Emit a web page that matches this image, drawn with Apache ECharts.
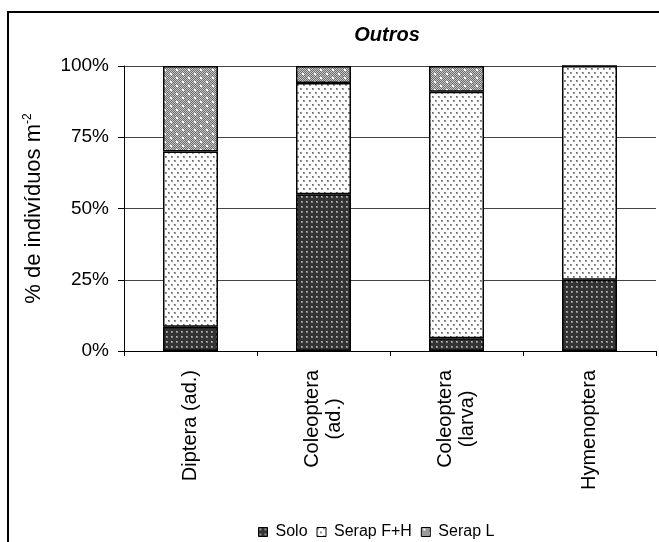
<!DOCTYPE html>
<html><head><meta charset="utf-8">
<script src="https://cdn.jsdelivr.net/npm/echarts@6/dist/echarts.min.js"></script>
<style>html,body{margin:0;padding:0;background:#fff}#c{width:659px;height:542px}</style>
</head><body><div id="c"></div>
<script>
const categories = ['Diptera (ad.)', 'Coleoptera\n(ad.)', 'Coleoptera\n(larva)', 'Hymenoptera'];
const solo = [8.5, 55, 4.5, 25];
const serapFH = [61.5, 39, 86.5, 75];
const serapL = [30, 6, 9, 0];
const seriesNames = ['Solo', 'Serap F+H', 'Serap L'];
const yTicks = [0, 25, 50, 75, 100];

function makePattern(kind) {
  const c = document.createElement('canvas');
  const ctx = c.getContext('2d');
  if (kind === 'solo') {
    c.width = 5; c.height = 5;
    ctx.fillStyle = '#333'; ctx.fillRect(0, 0, 5, 5);
    ctx.fillStyle = '#888'; ctx.fillRect(1, 1, 2, 2);
    ctx.fillStyle = '#bbb'; ctx.fillRect(1, 1, 1, 1);
  } else if (kind === 'fh') {
    c.width = 6; c.height = 8;
    ctx.fillStyle = '#fff'; ctx.fillRect(0, 0, 6, 8);
    ctx.fillStyle = '#999'; ctx.fillRect(0, 0, 2, 2); ctx.fillRect(3, 4, 2, 2);
    ctx.fillStyle = '#666'; ctx.fillRect(0, 0, 1, 1); ctx.fillRect(3, 4, 1, 1);
  } else {
    c.width = 12; c.height = 8;
    for (let y = 0; y < 8; y++) for (let x = 0; x < 12; x++) {
      ctx.fillStyle = ((x + y) % 2) ? '#707070' : '#c4c4c4';
      ctx.fillRect(x, y, 1, 1);
    }
    ctx.fillStyle = '#fff'; ctx.fillRect(2, 1, 2, 2); ctx.fillRect(8, 5, 2, 2);
  }
  return { image: c, repeat: 'repeat' };
}
const fills = [makePattern('solo'), makePattern('fh'), makePattern('l')];
const FONT = 'Arial, "Liberation Sans", sans-serif';

const chart = echarts.init(document.getElementById('c'), null, { renderer: 'canvas' });
const dataSets = [solo, serapFH, serapL];
chart.setOption({
  animation: false,
  backgroundColor: '#fff',
  title: {
    text: 'Outros', left: 382, top: 20, textAlign: 'center',
    textStyle: { fontFamily: FONT, fontSize: 20, fontWeight: 'bold', fontStyle: 'italic', color: '#000' }
  },
  graphic: [{
    type: 'rect', shape: { x: 8, y: 12, width: 700, height: 600 },
    style: { fill: 'none', stroke: '#000', lineWidth: 2 }, silent: true
  }],
  legend: {
    left: 253, top: 519, itemWidth: 9, itemHeight: 9, itemGap: 9, icon: 'rect',
    data: seriesNames,
    textStyle: { fontFamily: FONT, fontSize: 16, color: '#000', padding: [0, 0, 0, 3] },
    itemStyle: { borderColor: '#000', borderWidth: 1 }
  },
  grid: { left: 124, right: 3, top: 66, bottom: 191 },
  xAxis: {
    type: 'category', data: categories,
    axisLine: { lineStyle: { color: '#000', width: 1 } },
    axisTick: { show: true, length: 5, lineStyle: { color: '#000' }, alignWithLabel: false },
    axisLabel: {
      interval: 0, rotate: 90, margin: 19, color: '#000',
      formatter: v => '{c|' + v + '}',
      rich: { c: { align: 'center', fontFamily: FONT, fontSize: 20, lineHeight: 22, color: '#000' } }
    }
  },
  yAxis: {
    type: 'value', min: 0, max: 100, interval: 25,
    name: '% de indivíduos m{sup|-2}', nameLocation: 'middle', nameGap: 78, nameRotate: 90,
    nameTextStyle: {
      fontFamily: FONT, fontSize: 22, color: '#000',
      rich: { sup: { fontFamily: FONT, fontSize: 12, color: '#000', padding: [0, 0, 12, 0] } }
    },
    axisLine: { show: true, lineStyle: { color: '#000', width: 1 } },
    axisTick: { show: true, inside: false, length: 6, lineStyle: { color: '#000' } },
    axisLabel: { formatter: '{value}%', margin: 15, fontFamily: FONT, fontSize: 19, color: '#000' },
    splitLine: { lineStyle: { color: '#444', width: 1 } }
  },
  series: dataSets.map((d, i) => ({
    name: seriesNames[i], type: 'bar', stack: 'total', barWidth: 55,
    data: d,
    itemStyle: { color: fills[i], borderColor: '#000', borderWidth: 1.5 }
  }))
});
</script></body></html>
